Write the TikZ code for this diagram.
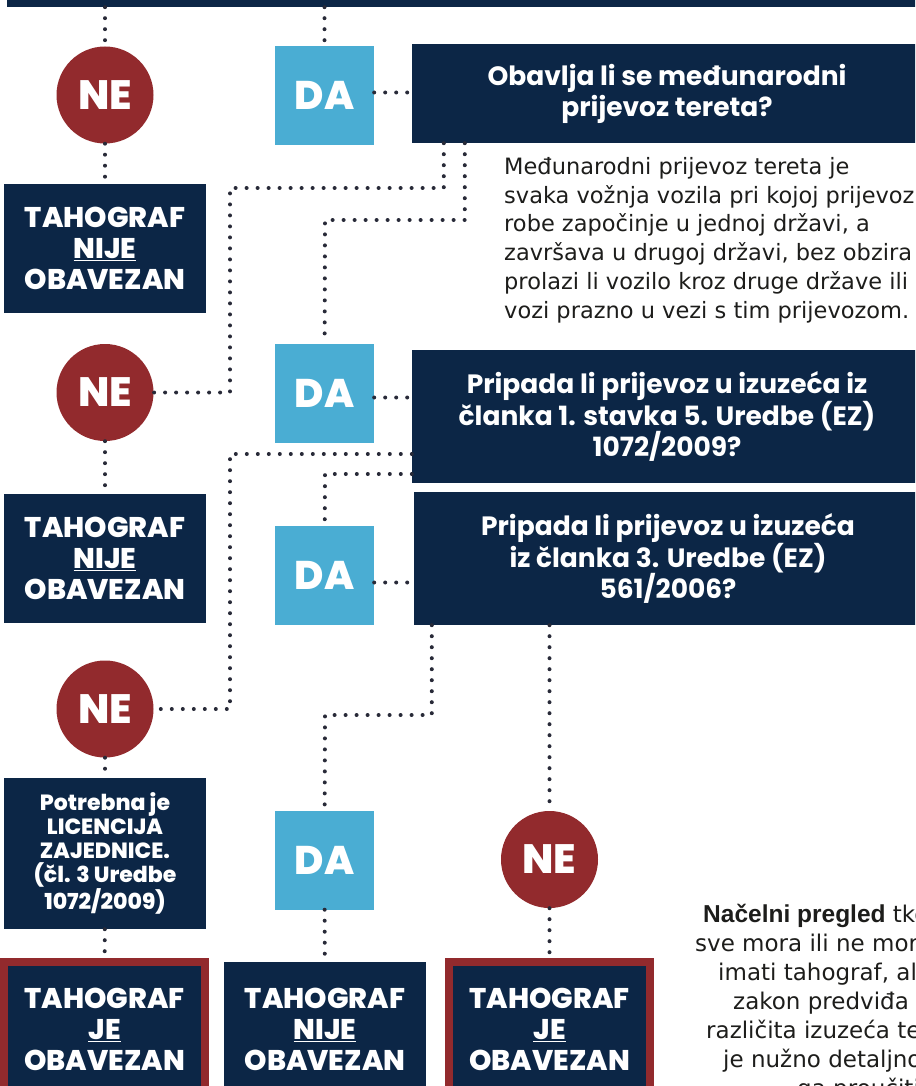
\documentclass[tikz,border=0pt]{standalone}
\usepackage{fontspec}
\setmainfont{DejaVu Sans}
\newfontfamily\heavyfont{Poppins ExtraBold}
\newfontfamily\qfont{Poppins Bold}
\newfontfamily\leadfont{Liberation Sans}
\usepackage{xcolor}
\usepackage{tikz}
\usetikzlibrary{positioning}
\definecolor{tahonavy}{RGB}{12,38,70}
\definecolor{tahored}{RGB}{146,42,45}
\definecolor{tahoblue}{RGB}{74,173,211}
\definecolor{tahodots}{RGB}{40,42,56}
\definecolor{tahoink}{RGB}{29,29,27}

\begin{document}
\begin{tikzpicture}[x=1pt, y=-1pt,
    answerda/.style={fill=tahoblue, minimum size=99pt, inner sep=0pt, text=white,
      font=\heavyfont\fontsize{40}{42}\selectfont},
    answerne/.style={circle, fill=tahored, minimum size=97pt, inner sep=0pt, text=white,
      font=\heavyfont\fontsize{41}{42}\selectfont},
    question/.style={fill=tahonavy, text=white, align=center, inner sep=0pt,
      font=\qfont\fontsize{26.5}{31}\selectfont},
    verdict/.style={fill=tahonavy, text=white, align=center, minimum width=202pt, inner sep=0pt,
      font=\heavyfont\fontsize{28.5}{31}\selectfont},
    mustbox/.style={verdict, draw=tahored, line width=8pt, minimum width=201pt},
    dotline/.style={tahodots, line width=4pt, line cap=round, dash pattern=on 0pt off 11pt},
  ]
  \useasboundingbox (0,0) rectangle (915,1086);
  \clip (0,0) rectangle (915,1086);

  \node[fill=tahonavy, minimum width=940pt, minimum height=30pt, inner sep=0pt] (topbar) at (477,-8) {};

  % prvo pitanje
  \node[answerne] (ne1) at (105,95) {NE};
  \node[answerda] (da1) at (324.5,95.5) {DA};
  \node[question, minimum width=510pt, minimum height=99pt] (q1) at (667,93.5)
    {Obavlja li se međunarodni\\prijevoz tereta?};
  \node[verdict, minimum height=129pt] (nije1) at (105,248.5) {TAHOGRAF\\\underline{NIJE}\\OBAVEZAN};
  \node[anchor=north west, align=left, inner sep=0pt, text=tahoink,
    font=\fontsize{22.5}{28.8}\selectfont] (opis) at (504,157)
    {Međunarodni prijevoz tereta je\\
     svaka vožnja vozila pri kojoj prijevoz\\
     robe započinje u jednoj državi, a\\
     završava u drugoj državi, bez obzira\\
     prolazi li vozilo kroz druge države ili\\
     vozi prazno u vezi s tim prijevozom.};

  % drugo pitanje
  \node[answerne] (ne2) at (105,392.5) {NE};
  \node[answerda] (da2) at (324.5,393.5) {DA};
  \node[question, minimum width=510pt, minimum height=133pt] (q2) at (667,416.5)
    {Pripada li prijevoz u izuzeća iz\\članka 1. stavka 5. Uredbe (EZ)\\1072/2009?};
  \node[verdict, minimum height=129pt] (nije2) at (105,558.5) {TAHOGRAF\\\underline{NIJE}\\OBAVEZAN};

  % trece pitanje
  \node[answerda] (da3) at (324.5,575.5) {DA};
  \node[question, minimum width=508pt, minimum height=133pt] (q3) at (668,558.5)
    {Pripada li prijevoz u izuzeća\\iz članka 3. Uredbe (EZ)\\561/2006?};
  \node[answerne] (ne3) at (105,709) {NE};
  \node[verdict, minimum height=151pt, font=\heavyfont\fontsize{22}{24}\selectfont] (licenca) at (105,853.5)
    {Potrebna je\\LICENCIJA\\ZAJEDNICE.\\(čl. 3 Uredbe\\1072/2009)};
  \node[answerda] (da4) at (324.5,860) {DA};
  \node[answerne] (ne4) at (549.5,859.5) {NE};

  % zakljucci
  \node[mustbox, minimum height=134pt] (je1) at (104.5,1029) {TAHOGRAF\\\underline{JE}\\OBAVEZAN};
  \node[verdict, minimum height=134pt] (nije3) at (325,1029) {TAHOGRAF\\\underline{NIJE}\\OBAVEZAN};
  \node[mustbox, minimum height=134pt] (je2) at (549.5,1029) {TAHOGRAF\\\underline{JE}\\OBAVEZAN};

  \foreach \tx/\ty/\txt [count=\i] in {703/922/{{\leadfont\bfseries\fontsize{24.5}{29}\selectfont Načelni pregled} tko},
      695/951/{sve mora ili ne mora}, 718/980/{imati tahograf, ali},
      733/1009/{zakon predviđa}, 706/1038/{različita izuzeća te},
      723/1067/{je nužno detaljno}, 797/1096/{ga proučiti.}}
    \node[anchor=base west, inner sep=0pt, text=tahoink, font=\fontsize{23}{29}\selectfont]
      (napomena\i) at (\tx,\ty) {\txt};

  % veze
  \coordinate (k1) at (230,188);
  \coordinate (k2) at (325,220);
  \coordinate (k3) at (230,454);
  \coordinate (k4) at (325,474);
  \coordinate (k5) at (325,715);

  \draw[dotline] (topbar.south -| ne1) -- (ne1);
  \draw[dotline] (topbar.south -| da1) -- (da1);
  \draw[dotline] (ne1) -- (nije1);
  \draw[dotline] ([yshift=3pt]da1.east) -- ([yshift=3pt]da1.east -| q1.west);
  \draw[dotline] ([xshift=32pt]q1.south west) |- (k1) |- (ne2);
  \draw[dotline] ([xshift=53pt]q1.south west) |- (k2) -- (da2);

  \draw[dotline] (ne2) -- (nije2);
  \draw[dotline] ([yshift=-4pt]da2.east) -- ([yshift=-4pt]da2.east -| q2.west);
  \draw[dotline] (k3 -| q2.west) -- (k3) |- (ne3);
  \draw[dotline] (k4 -| q2.west) -- (k4) -- (da3);

  \draw[dotline] ([yshift=-7pt]da3.east) -- ([yshift=-7pt]da3.east -| q3.west);
  \draw[dotline] ([xshift=18pt]q3.south west) |- (k5) -- (da4);
  \draw[dotline] (q3.south -| ne4) -- (ne4);

  \draw[dotline] (ne3) -- (licenca);
  \draw[dotline] (licenca) -- (je1);
  \draw[dotline] (da4) -- (nije3);
  \draw[dotline] (ne4) -- (je2);
\end{tikzpicture}
\end{document}
